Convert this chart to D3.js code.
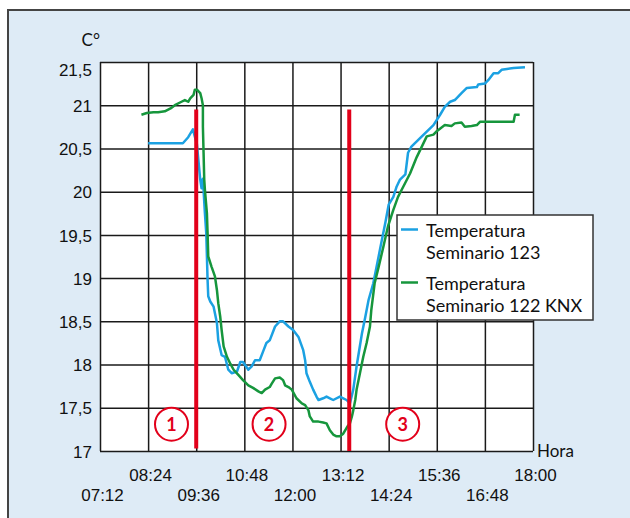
<!DOCTYPE html>
<html>
<head>
<meta charset="utf-8">
<script src="https://cdn.jsdelivr.net/npm/d3@7"></script>
<style>
  body { margin: 0; background: #fff; }
  svg { display: block; font-family: Lato, "DejaVu Sans", sans-serif; }
  .axis path { display: none; }
  .grid line { stroke: #1a1a1a; stroke-width: 1.5; }
  .grid path { display: none; }
  .linea { fill: none; stroke-width: 2.5; stroke-linejoin: round; }
</style>
</head>
<body>
<svg width="630" height="518"></svg>
<script>
// Temperatura Seminario 123 (hora, grados)
var horas123 = ["08:24","08:51","09:16","09:24","09:31","09:37","09:42","09:44","09:46","09:49","09:51","09:52","09:53","09:54","09:57","10:02","10:07","10:09","10:14","10:19","10:24","10:29","10:37","10:42","10:46","10:54","10:59","11:04","11:11","11:16","11:21","11:26","11:34","11:41","11:46","11:54","12:01","12:09","12:16","12:19","12:21","12:26","12:31","12:36","12:39","12:46","12:51","12:56","13:01","13:11","13:16","13:21","13:26","13:31","13:36","13:44","13:49","13:54","14:01","14:11","14:19","14:24","14:31","14:36","14:41","14:49","14:53","14:58","15:11","15:31","15:41","15:48","15:56","16:03","16:13","16:21","16:36","16:38","16:48","16:53","17:01","17:08","17:13","17:21","17:31","17:48"];
var temp123 = [20.56,20.56,20.56,20.63,20.72,20.55,20.14,20.04,20.15,19.75,19.52,19.25,18.98,18.79,18.73,18.67,18.48,18.28,18.11,18.09,17.94,17.90,17.92,18.03,18.03,17.94,17.98,18.05,18.05,18.15,18.25,18.28,18.44,18.50,18.50,18.44,18.40,18.32,18.17,18.05,17.90,17.80,17.71,17.63,17.59,17.61,17.63,17.61,17.59,17.63,17.61,17.59,17.55,17.71,17.98,18.36,18.55,18.75,18.94,19.33,19.64,19.85,19.94,20.06,20.14,20.20,20.45,20.52,20.62,20.77,20.89,20.98,21.04,21.06,21.14,21.20,21.21,21.24,21.25,21.29,21.37,21.37,21.41,21.42,21.43,21.44];

// Temperatura Seminario 122 KNX
var horas122 = ["08:14","08:22","08:32","08:39","08:49","08:59","09:04","09:14","09:19","09:24","09:27","09:32","09:34","09:37","09:42","09:44","09:46","09:46","09:47","09:48","09:49","09:52","09:53","09:54","09:59","10:04","10:07","10:09","10:12","10:14","10:17","10:22","10:27","10:32","10:39","10:46","10:54","11:01","11:09","11:14","11:19","11:26","11:29","11:34","11:41","11:46","11:49","11:54","11:59","12:06","12:14","12:19","12:24","12:26","12:31","12:39","12:46","12:51","12:56","13:01","13:06","13:11","13:16","13:22","13:26","13:29","13:31","13:34","13:36","13:41","13:46","13:51","13:56","13:58","14:03","14:09","14:16","14:23","14:31","14:38","14:46","14:56","15:06","15:21","15:31","15:36","15:48","15:58","16:03","16:13","16:18","16:28","16:36","16:41","17:11","17:31","17:33","17:40"];
var temp122 = [20.89,20.91,20.92,20.92,20.93,20.97,21.00,21.04,21.06,21.04,21.08,21.12,21.18,21.18,21.14,21.08,21.00,20.75,20.45,20.14,20.02,19.75,19.52,19.25,19.13,19.02,18.86,18.71,18.55,18.40,18.21,18.09,18.01,17.94,17.88,17.82,17.76,17.73,17.69,17.67,17.71,17.74,17.78,17.84,17.85,17.82,17.76,17.74,17.71,17.61,17.55,17.53,17.47,17.40,17.34,17.34,17.33,17.32,17.24,17.19,17.17,17.17,17.20,17.28,17.32,17.40,17.47,17.59,17.71,17.90,18.09,18.25,18.44,18.63,18.94,19.13,19.36,19.60,19.79,19.94,20.06,20.21,20.40,20.64,20.66,20.70,20.77,20.76,20.79,20.80,20.75,20.76,20.77,20.81,20.81,20.81,20.89,20.89];

var horasTicks = ["07:12","08:24","09:36","10:48","12:00","13:12","14:24","15:36","16:48","18:00"];
var tempTicks = [17, 17.5, 18, 18.5, 19, 19.5, 20, 20.5, 21, 21.5];

// lineas rojas de eventos y fases numeradas
var eventosHora = ["09:36","13:25"];
var eventosDesde = [17.03, 17];
var eventosHasta = [20.95, 20.95];
var fasesNum = ["1","2","3"];
var fasesHora = ["08:59","11:25","14:45"];
var fasesTemp = 17.31;

var series = ["Temperatura|Seminario 123", "Temperatura|Seminario 122 KNX"];
var colores = ["#1ba1e2", "#16963c"];

var svg = d3.select("svg"),
    margin = {top: 62, right: 97, bottom: 67, left: 100},
    width = +svg.attr("width") - margin.left - margin.right,
    height = +svg.attr("height") - margin.top - margin.bottom;

var parseTime = d3.timeParse("%H:%M");

// marco de fondo
svg.append("rect")
    .attr("x", 8).attr("y", 10)
    .attr("width", 640).attr("height", 520)
    .attr("fill", "#deebf6")
    .attr("stroke", "#444").attr("stroke-width", 2);

var g = svg.append("g").attr("transform", "translate(" + margin.left + "," + margin.top + ")");

var x = d3.scaleTime().domain([parseTime("07:12"), parseTime("18:00")]).range([0, width]),
    y = d3.scaleLinear().domain([17, 21.5]).range([height, 0]);

g.append("rect").attr("width", width).attr("height", height).attr("fill", "#fff");

// rejilla
g.append("g").attr("class", "grid")
    .attr("transform", "translate(0," + height + ")")
    .call(d3.axisBottom(x).tickValues(horasTicks.map(parseTime)).tickSize(-height).tickFormat(""));
g.append("g").attr("class", "grid")
    .call(d3.axisLeft(y).tickValues(tempTicks).tickSize(-width).tickFormat(""));

// ejes
var ejeX = g.append("g").attr("class", "axis")
    .attr("transform", "translate(0," + height + ")")
    .call(d3.axisBottom(x).tickValues(horasTicks.map(parseTime)).tickSize(0)
      .tickFormat(d3.timeFormat("%H:%M")));
ejeX.selectAll("text")
    .attr("y", function(d, i) { return i % 2 ? 30 : 50; })
    .attr("dy", 0)
    .attr("dx", 2)
    .style("font-size", "17px").attr("fill", "#111");
ejeX.selectAll("line").remove();

var ejeY = g.append("g").attr("class", "axis")
    .call(d3.axisLeft(y).tickValues(tempTicks).tickSize(0)
      .tickFormat(function(d) { return String(d).replace(".", ","); }));
ejeY.selectAll("text")
    .attr("x", -8)
    .attr("dy", function(d) { return d === 21.5 ? "0.8em" : "0.36em"; })
    .style("font-size", "17px").attr("fill", "#111");
ejeY.selectAll("line").remove();

g.append("text").attr("x", 0).attr("y", -16).attr("text-anchor", "end")
    .style("font-size", "17px").attr("fill", "#111").text("C°");
g.append("text").attr("x", width + 4).attr("y", height + 6)
    .style("font-size", "17px").attr("fill", "#111").text("Hora");

// lineas de datos
var line = d3.line()
    .x(function(d) { return x(d.hora); })
    .y(function(d) { return y(d.temp); });

var datos = [
  horas123.map(function(h, i) { return {hora: parseTime(h), temp: temp123[i]}; }),
  horas122.map(function(h, i) { return {hora: parseTime(h), temp: temp122[i]}; })
];

g.selectAll(".linea").data(datos).enter().append("path")
    .attr("class", "linea")
    .attr("stroke", function(d, i) { return colores[i]; })
    .attr("d", line);

// eventos
g.selectAll(".evento").data(eventosHora).enter().append("line")
    .attr("class", "evento")
    .attr("x1", function(d) { return x(parseTime(d)); })
    .attr("x2", function(d) { return x(parseTime(d)); })
    .attr("y1", function(d, i) { return y(eventosDesde[i]); })
    .attr("y2", function(d, i) { return y(eventosHasta[i]); })
    .attr("stroke", "#e2001a").attr("stroke-width", 4);

var fase = g.selectAll(".fase").data(fasesNum).enter().append("g")
    .attr("class", "fase")
    .attr("transform", function(d, i) { return "translate(" + x(parseTime(fasesHora[i])) + "," + y(fasesTemp) + ")"; });
fase.append("circle").attr("r", 16.5)
    .attr("fill", "#fff").attr("stroke", "#e2001a").attr("stroke-width", 2);
fase.append("text").attr("text-anchor", "middle").attr("dy", "0.36em")
    .style("font-size", "18px").style("font-weight", "bold")
    .attr("fill", "#e2001a").text(function(d) { return d; });

// leyenda
var leyenda = svg.append("g").attr("transform", "translate(397,215)");
leyenda.append("rect").attr("width", 196).attr("height", 105)
    .attr("fill", "#fff").attr("stroke", "#333").attr("stroke-width", 1.5);
series.forEach(function(s, i) {
  var fila = leyenda.append("g").attr("transform", "translate(0," + (i * 53) + ")");
  fila.append("line").attr("x1", 4).attr("x2", 21).attr("y1", 14.5).attr("y2", 14.5)
      .attr("stroke", colores[i]).attr("stroke-width", 2.5);
  s.split("|").forEach(function(t, j) {
    fila.append("text").attr("x", 29).attr("y", 22 + j * 21.5)
        .style("font-size", "18px").attr("fill", "#111").text(t);
  });
});
</script>
</body>
</html>
